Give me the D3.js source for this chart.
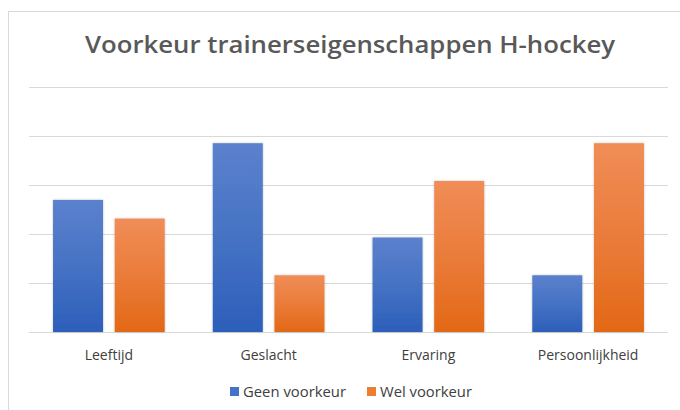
<!DOCTYPE html>
<html><head><meta charset="utf-8">
<script src="https://cdn.jsdelivr.net/npm/d3@7"></script>
<style>body{margin:0;background:#fff}svg{display:block}</style>
</head><body>
<script>
const categories = ["Leeftijd", "Geslacht", "Ervaring", "Persoonlijkheid"];
const seriesNames = ["Geen voorkeur", "Wel voorkeur"];
const geenVoorkeur = [53.8, 76.9, 38.5, 23.1];
const welVoorkeur = [46.2, 23.1, 61.5, 76.9];
const yTicks = [0, 20, 40, 60, 80, 100];
const title = "Voorkeur trainerseigenschappen H-hockey";

const W = 680, H = 410;
const svg = d3.select("body").append("svg").attr("width", W).attr("height", H);
const font = "'Open Sans', 'Noto Sans', sans-serif";

const defs = svg.append("defs");
const grads = [["gBlue", "#5b81cd", "#2c5fba"], ["gOrange", "#f08d57", "#e36816"]];
grads.forEach(([id, a, b]) => {
  const g = defs.append("linearGradient").attr("id", id).attr("x1", 0).attr("y1", 0).attr("x2", 0).attr("y2", 1);
  g.append("stop").attr("offset", "0%").attr("stop-color", a);
  g.append("stop").attr("offset", "50%").attr("stop-color", d3.interpolateRgb(a, b)(0.45));
  g.append("stop").attr("offset", "100%").attr("stop-color", b);
});
const f = defs.append("filter").attr("id", "sh").attr("x", "-20%").attr("y", "-5%").attr("width", "140%").attr("height", "115%");
f.append("feDropShadow").attr("dx", 0).attr("dy", 0).attr("stdDeviation", 1).attr("flood-color", "#000").attr("flood-opacity", 0.25);

// chart border
svg.append("rect").attr("x", 8.5).attr("y", 11.5).attr("width", 680).attr("height", 410)
  .attr("fill", "#fff").attr("stroke", "#d9d9d9").attr("stroke-width", 1);

const x0 = d3.scaleBand().domain(categories).range([29, 668]).paddingInner(0).paddingOuter(0);
const y = d3.scaleLinear().domain([0, 100]).range([332, 86.5]);

// gridlines
svg.append("g").selectAll("line").data(yTicks).join("line")
  .attr("x1", 29).attr("x2", 668)
  .attr("y1", d => Math.round(y(d)) + 0.5).attr("y2", d => Math.round(y(d)) + 0.5)
  .attr("stroke", "#d9d9d9").attr("stroke-width", 1);

const bw = x0.bandwidth();
const barW = bw * 0.313, gap = bw * 0.073;
const series = [geenVoorkeur, welVoorkeur];
const fills = ["url(#gBlue)", "url(#gOrange)"];
series.forEach((vals, si) => {
  svg.append("g").selectAll("rect").data(categories).join("rect")
    .attr("x", (c) => x0(c) + bw / 2 + (si === 0 ? -gap / 2 - barW : gap / 2))
    .attr("y", (c, i) => y(vals[i]))
    .attr("width", barW)
    .attr("height", (c, i) => y(0) - y(vals[i]))
    .attr("fill", fills[si])
    .attr("filter", "url(#sh)");
});

// x axis labels
const xAxis = d3.axisBottom(x0).tickSize(0);
const gx = svg.append("g").attr("transform", "translate(0,332)").call(xAxis);
gx.select(".domain").remove();
gx.selectAll("text").attr("y", 28).attr("dy", 0)
  .attr("font-family", font).attr("font-size", 14).attr("fill", "#404040");

// title
svg.append("text").attr("x", 350).attr("y", 53).attr("text-anchor", "middle")
  .attr("font-family", font).attr("font-weight", 600).attr("font-size", 24).attr("fill", "#595959")
  .attr("textLength", 530).attr("lengthAdjust", "spacingAndGlyphs").text(title);

// legend
const legColors = ["#4472c4", "#ed7d31"];
const legX = [230, 367];
const legW = [103, 92];
seriesNames.forEach((n, i) => {
  svg.append("rect").attr("x", legX[i]).attr("y", 387).attr("width", 9).attr("height", 9).attr("fill", legColors[i]);
  svg.append("text").attr("x", legX[i] + 13).attr("y", 397).attr("font-family", font).attr("font-size", 14)
    .attr("fill", "#404040").attr("textLength", legW[i]).attr("lengthAdjust", "spacingAndGlyphs").text(n);
});
</script>
</body></html>
